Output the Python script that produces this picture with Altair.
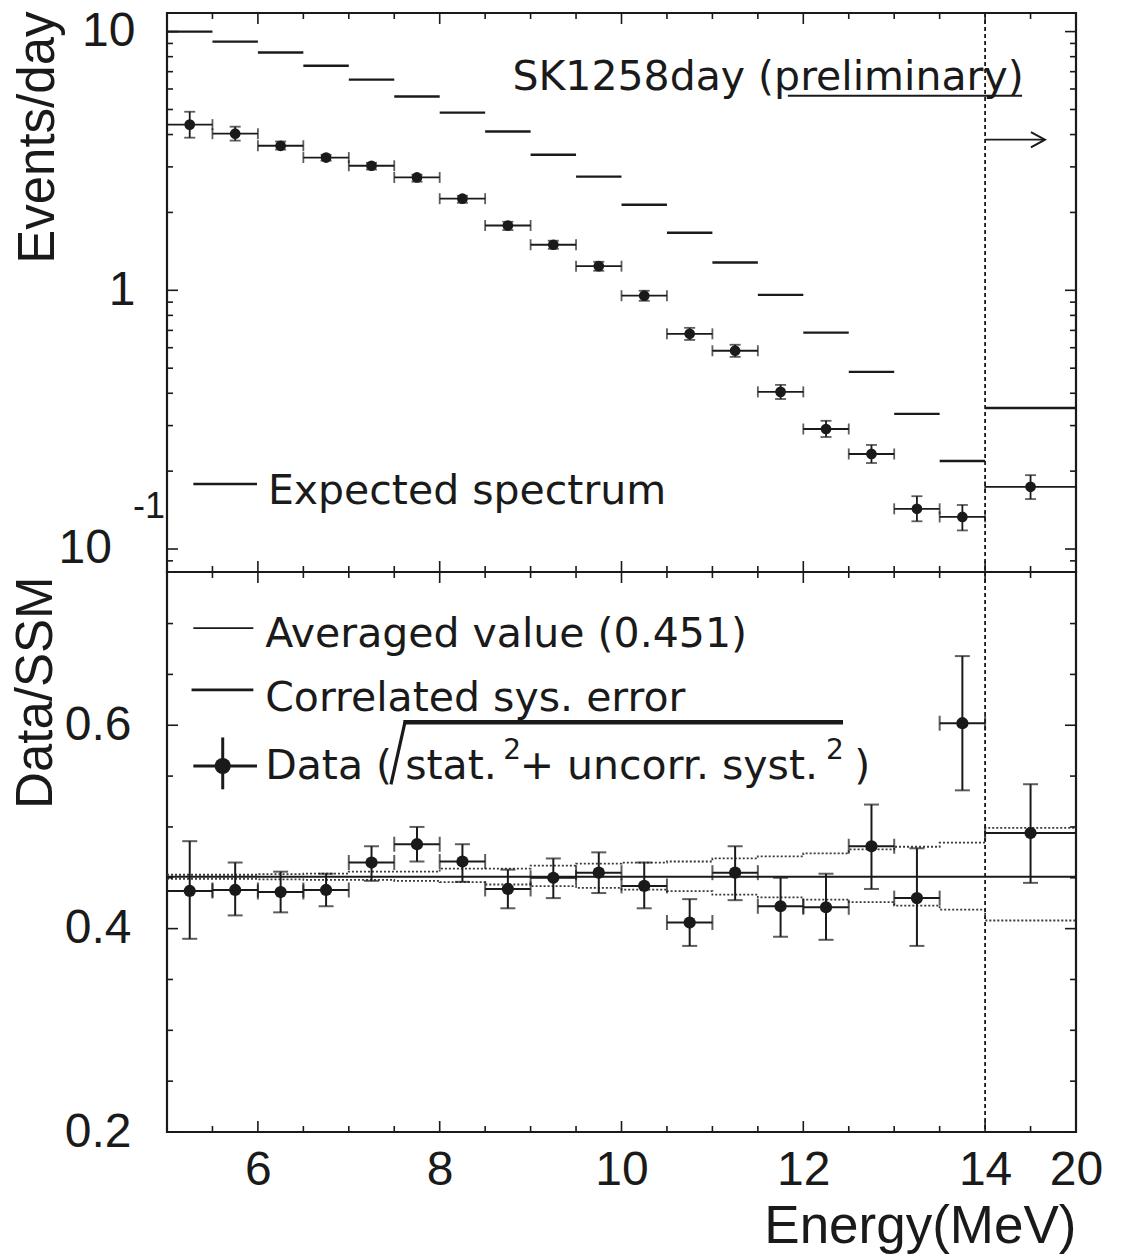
import altair as alt
import pandas as pd

# ---------------- data ----------------
bin_lo = [5.0, 5.5, 6.0, 6.5, 7.0, 7.5, 8.0, 8.5, 9.0, 9.5, 10.0, 10.5, 11.0, 11.5, 12.0, 12.5, 13.0, 13.5, 14.0]
bin_hi = [5.5, 6.0, 6.5, 7.0, 7.5, 8.0, 8.5, 9.0, 9.5, 10.0, 10.5, 11.0, 11.5, 12.0, 12.5, 13.0, 13.5, 14.0, 20.0]
bin_mid = [5.25, 5.75, 6.25, 6.75, 7.25, 7.75, 8.25, 8.75, 9.25, 9.75, 10.25, 10.75, 11.25, 11.75, 12.25, 12.75, 13.25, 13.75, 17.0]

expected_rate = [10.0, 9.15, 8.30, 7.38, 6.52, 5.61, 4.86, 4.11, 3.34, 2.75, 2.14, 1.67, 1.28, 0.96, 0.686, 0.484, 0.333, 0.219, 0.351]
data_rate = [4.37, 4.03, 3.62, 3.26, 3.03, 2.73, 2.26, 1.78, 1.50, 1.24, 0.953, 0.679, 0.584, 0.405, 0.291, 0.233, 0.143, 0.133, 0.174]
data_rate_hi = [4.90, 4.29, 3.76, 3.34, 3.11, 2.80, 2.32, 1.84, 1.555, 1.289, 0.996, 0.716, 0.616, 0.431, 0.313, 0.2525, 0.160, 0.148, 0.193]
data_rate_lo = [3.89, 3.79, 3.50, 3.17, 2.93, 2.63, 2.18, 1.71, 1.447, 1.190, 0.911, 0.643, 0.553, 0.380, 0.271, 0.215, 0.128, 0.118, 0.156]

ratio = [0.437, 0.438, 0.436, 0.438, 0.465, 0.483, 0.466, 0.439, 0.450, 0.455, 0.442, 0.406, 0.455, 0.422, 0.421, 0.481, 0.430, 0.602, 0.494]
ratio_hi = [0.486, 0.465, 0.456, 0.454, 0.481, 0.500, 0.483, 0.458, 0.469, 0.475, 0.465, 0.429, 0.481, 0.450, 0.454, 0.522, 0.479, 0.668, 0.542]
ratio_lo = [0.390, 0.413, 0.416, 0.422, 0.447, 0.466, 0.446, 0.420, 0.430, 0.435, 0.420, 0.383, 0.428, 0.392, 0.389, 0.439, 0.383, 0.536, 0.445]
averaged_ratio = 0.451
corr_sys_hi = [0.453, 0.453, 0.4535, 0.454, 0.456, 0.456, 0.459, 0.459, 0.462, 0.464, 0.465, 0.466, 0.469, 0.471, 0.474, 0.478, 0.4805, 0.4845, 0.499]
corr_sys_lo = [0.449, 0.449, 0.4485, 0.448, 0.448, 0.447, 0.4457, 0.4434, 0.4417, 0.440, 0.4384, 0.4368, 0.4335, 0.4308, 0.4286, 0.426, 0.4227, 0.4187, 0.408]

threshold_energy = 14.0

x_label_values = [6, 8, 10, 12, 14, 20]
x_major_ticks = [6, 8, 10, 12, 14]
x_minor_ticks = [5.5, 6.5, 7, 7.5, 8.5, 9, 9.5, 10.5, 11, 11.5, 12.5, 13, 13.5, 17]
top_label_values = [1, 10]
top_major_ticks = [0.1, 1, 10]
top_minor_ticks = [0.09, 0.2, 0.3, 0.4, 0.5, 0.6, 0.7, 0.8, 0.9, 2, 3, 4, 5, 6, 7, 8, 9]
bot_label_values = [0.2, 0.4, 0.6]
bot_major_ticks = [0.2, 0.4, 0.6]
bot_minor_ticks = [0.25, 0.3, 0.35, 0.45, 0.5, 0.55, 0.65, 0.7]

# ---------------- styling / layout ----------------
W = 909
H_TOP = 559
H_BOT = 560
INK = "#1a1a1a"
AX_FONT = "Liberation Sans"
TXT_FONT = "DejaVu Sans"
MAJ = 11
MIN = 6

x_scale = alt.Scale(domain=[5, 14, 20], range=[0, 818.1, 909], nice=False, zero=False)
top_scale = alt.Scale(type="log", domain=[0.0815, 11.8], nice=False)
bot_scale = alt.Scale(domain=[0.2, 0.7507], nice=False, zero=False)

x_axis = alt.Axis(
    values=x_label_values, format="d", ticks=False, domain=False, grid=False,
    labelFont=AX_FONT, labelFontSize=48, labelColor=INK, labelPadding=14,
    labelFlush=False, labelOverlap=False,
    title="Energy(MeV)", titleFont=AX_FONT, titleFontSize=53, titleFontWeight="normal",
    titleColor=INK, titleAlign="right", titleAnchor="end", titleX=W, titleY=68,
    titleBaseline="top",
)
top_axis = alt.Axis(
    values=top_label_values, format="~g", ticks=False, domain=False, grid=False,
    labelFont=AX_FONT, labelFontSize=48, labelColor=INK, labelPadding=32,
    labelFlush=False, labelOverlap=False,
    title="Events/day", titleFont=AX_FONT, titleFontSize=51, titleFontWeight="normal",
    titleColor=INK, titleAngle=270, titleAlign="right", titleBaseline="alphabetic",
    titleX=-114, titleY=-2,
)
bot_axis = alt.Axis(
    values=bot_label_values, format=".1f", ticks=False, domain=False, grid=False,
    labelFont=AX_FONT, labelFontSize=48, labelColor=INK, labelPadding=36,
    labelFlush=False, labelOverlap=False,
    title="Data/SSM", titleFont=AX_FONT, titleFontSize=51, titleFontWeight="normal",
    titleColor=INK, titleAngle=270, titleAlign="right", titleBaseline="alphabetic",
    titleX=-116, titleY=4,
)


def XT(f):
    return alt.X(f, type="quantitative", scale=x_scale, axis=None)


def XB(f):
    return alt.X(f, type="quantitative", scale=x_scale, axis=x_axis)


def YT(f):
    return alt.Y(f, type="quantitative", scale=top_scale, axis=top_axis)


def YB(f):
    return alt.Y(f, type="quantitative", scale=bot_scale, axis=bot_axis)


def border_ticks(xf, yf, h):
    layers = []
    for vals, ln in ((x_major_ticks, MAJ), (x_minor_ticks, MIN)):
        d = pd.DataFrame({"v": vals})
        layers.append(alt.Chart(d).mark_rule(color=INK, strokeWidth=1.6).encode(
            x=xf("v"), y=alt.value(h), y2=alt.value(h - ln)))
        layers.append(alt.Chart(d).mark_rule(color=INK, strokeWidth=1.6).encode(
            x=xf("v"), y=alt.value(0), y2=alt.value(ln)))
    return layers


def side_ticks(yf, major, minor):
    layers = []
    for vals, ln in ((major, MAJ), (minor, MIN)):
        d = pd.DataFrame({"v": vals})
        layers.append(alt.Chart(d).mark_rule(color=INK, strokeWidth=1.6).encode(
            y=yf("v"), x=alt.value(0), x2=alt.value(ln)))
        layers.append(alt.Chart(d).mark_rule(color=INK, strokeWidth=1.6).encode(
            y=yf("v"), x=alt.value(W), x2=alt.value(W - ln)))
    return layers


def text_layer(xf, yf, x, y, t, size=41, font=TXT_FONT, align="left", baseline="alphabetic"):
    d = pd.DataFrame({"x": [x], "y": [y], "t": [t]})
    return alt.Chart(d).mark_text(
        font=font, fontSize=size, color=INK, align=align, baseline=baseline
    ).encode(x=xf("x"), y=yf("y"), text="t:N")


def seg_layer(xf, yf, x1, x2, y1, y2, width=2.0, dash=None):
    d = pd.DataFrame({"x": [x1], "x2": [x2], "y": [y1], "y2": [y2]})
    kw = dict(color=INK, strokeWidth=width)
    if dash:
        kw["strokeDash"] = dash
    return alt.Chart(d).mark_rule(**kw).encode(
        x=xf("x"), x2=alt.X2("x2"), y=yf("y"), y2=alt.Y2("y2"))


# ---------------- top panel ----------------
top_df = pd.DataFrame({
    "lo": bin_lo, "hi": bin_hi, "mid": bin_mid, "exp": expected_rate,
    "rate": data_rate, "rlo": data_rate_lo, "rhi": data_rate_hi,
})
top_xcaps = pd.DataFrame({"x": bin_lo + bin_hi, "y": data_rate + data_rate})
top_ycaps = pd.DataFrame({"x": bin_mid + bin_mid, "y": data_rate_lo + data_rate_hi})
thr_df = pd.DataFrame({"e": [threshold_energy]})

top_layers = [
    alt.Chart(top_df).mark_rule(color=INK, strokeWidth=2.4).encode(x=XT("lo"), x2=alt.X2("hi"), y=YT("exp")),
    alt.Chart(top_df).mark_rule(color=INK, strokeWidth=1.8).encode(x=XT("lo"), x2=alt.X2("hi"), y=YT("rate")),
    alt.Chart(top_df).mark_rule(color=INK, strokeWidth=1.8).encode(x=XT("mid"), y=YT("rlo"), y2=alt.Y2("rhi")),
    alt.Chart(top_xcaps).mark_tick(color=INK, orient="vertical", size=11, thickness=1.8).encode(x=XT("x"), y=YT("y")),
    alt.Chart(top_ycaps).mark_tick(color=INK, orient="horizontal", size=11, thickness=1.8).encode(x=XT("x"), y=YT("y")),
    alt.Chart(top_df).mark_circle(color=INK, size=115, opacity=1).encode(x=XT("mid"), y=YT("rate")),
    alt.Chart(thr_df).mark_rule(color=INK, strokeWidth=1.8, strokeDash=[4, 3]).encode(x=XT("e")),
    # arrow beyond threshold
    seg_layer(XT, YT, 14.0, 17.9, 3.82, 3.82, width=1.8),
    alt.Chart(pd.DataFrame({"x": [17.95], "y": [3.82]})).mark_point(
        shape="M-2,-1.1L0,0L-2,1.1", size=196, filled=False, color=INK, strokeWidth=2, opacity=1
    ).encode(x=XT("x"), y=YT("y")),
    # header text
    text_layer(XT, YT, 8.80, 5.97, "SK1258day (preliminary)"),
    seg_layer(XT, YT, 11.83, 16.44, 5.65, 5.65, width=2.2),
    # legend
    seg_layer(XT, YT, 5.29, 5.99, 0.1784, 0.1784, width=2.4),
    text_layer(XT, YT, 6.11, 0.149, "Expected spectrum"),
    # 10^-1 label
    alt.Chart(pd.DataFrame({"y": [0.1], "t": ["10"]})).mark_text(
        font=AX_FONT, fontSize=48, color=INK, align="right", baseline="middle"
    ).encode(x=alt.value(-55), y=YT("y"), text="t:N"),
    alt.Chart(pd.DataFrame({"y": [0.1], "t": ["-1"]})).mark_text(
        font=AX_FONT, fontSize=36, color=INK, align="right", baseline="middle", dy=-42
    ).encode(x=alt.value(-2), y=YT("y"), text="t:N"),
] + border_ticks(XT, YT, H_TOP) + side_ticks(YT, top_major_ticks, top_minor_ticks)

top = alt.layer(*top_layers).properties(width=W, height=H_TOP)

# ---------------- bottom panel ----------------
bot_df = pd.DataFrame({
    "lo": bin_lo, "hi": bin_hi, "mid": bin_mid,
    "r": ratio, "rlo": ratio_lo, "rhi": ratio_hi,
})
bot_xcaps = pd.DataFrame({"x": bin_lo + bin_hi, "y": ratio + ratio})
bot_ycaps = pd.DataFrame({"x": bin_mid + bin_mid, "y": ratio_lo + ratio_hi})
sys_df = pd.DataFrame({
    "x": bin_lo + [bin_hi[-1]],
    "up": corr_sys_hi + [corr_sys_hi[-1]],
    "dn": corr_sys_lo + [corr_sys_lo[-1]],
})
avg_df = pd.DataFrame({"x": [bin_lo[0]], "x2": [bin_hi[-1]], "y": [averaged_ratio]})

SUP_Y = 0.567
TXT_Y = 0.5468

bot_layers = [
    alt.Chart(sys_df).mark_line(color="#3a3a3a", strokeWidth=1.8, strokeDash=[2, 2], interpolate="step-after").encode(x=XB("x"), y=YB("up")),
    alt.Chart(sys_df).mark_line(color="#3a3a3a", strokeWidth=1.8, strokeDash=[2, 2], interpolate="step-after").encode(x=XB("x"), y=YB("dn")),
    alt.Chart(avg_df).mark_rule(color=INK, strokeWidth=2).encode(x=XB("x"), x2=alt.X2("x2"), y=YB("y")),
    alt.Chart(bot_df).mark_rule(color=INK, strokeWidth=2).encode(x=XB("lo"), x2=alt.X2("hi"), y=YB("r")),
    alt.Chart(bot_df).mark_rule(color=INK, strokeWidth=2).encode(x=XB("mid"), y=YB("rlo"), y2=alt.Y2("rhi")),
    alt.Chart(bot_xcaps).mark_tick(color=INK, orient="vertical", size=15, thickness=2).encode(x=XB("x"), y=YB("y")),
    alt.Chart(bot_ycaps).mark_tick(color=INK, orient="horizontal", size=15, thickness=2).encode(x=XB("x"), y=YB("y")),
    alt.Chart(bot_df).mark_circle(color=INK, size=150, opacity=1).encode(x=XB("mid"), y=YB("r")),
    alt.Chart(thr_df).mark_rule(color=INK, strokeWidth=1.8, strokeDash=[4, 3]).encode(x=XB("e")),
    # legend
    seg_layer(XB, YB, 5.29, 5.95, 0.6956, 0.6956, width=1.8),
    text_layer(XB, YB, 6.08, 0.6768, "Averaged value (0.451)"),
    seg_layer(XB, YB, 5.27, 5.95, 0.6348, 0.6348, width=2.6),
    text_layer(XB, YB, 6.08, 0.6138, "Correlated sys. error"),
    seg_layer(XB, YB, 5.29, 5.99, 0.5599, 0.5599, width=3),
    seg_layer(XB, YB, 5.613, 5.613, 0.537, 0.588, width=3),
    alt.Chart(pd.DataFrame({"x": [5.613], "y": [0.5599]})).mark_circle(color=INK, size=260, opacity=1).encode(x=XB("x"), y=YB("y")),
    text_layer(XB, YB, 6.08, TXT_Y, "Data ("),
    seg_layer(XB, YB, 7.464, 7.618, 0.5419, 0.603, width=3.2),
    seg_layer(XB, YB, 7.60, 12.437, 0.603, 0.603, width=4.5),
    text_layer(XB, YB, 7.62, TXT_Y, "stat."),
    text_layer(XB, YB, 8.70, SUP_Y, "2", size=28),
    text_layer(XB, YB, 8.88, TXT_Y, "+ uncorr. syst."),
    text_layer(XB, YB, 12.25, SUP_Y, "2", size=28),
    text_layer(XB, YB, 12.56, TXT_Y, ")"),
] + border_ticks(XB, YB, H_BOT) + side_ticks(YB, bot_major_ticks, bot_minor_ticks)

bottom = alt.layer(*bot_layers).properties(width=W, height=H_BOT)

chart = alt.vconcat(top, bottom, spacing=0, bounds="flush").properties(
    padding={"left": 8, "top": 6, "right": 5, "bottom": 5},
    background="white",
).configure_view(stroke=INK, strokeWidth=2.2)

chart.save("out.html", embed_options={"renderer": "svg", "actions": False})
